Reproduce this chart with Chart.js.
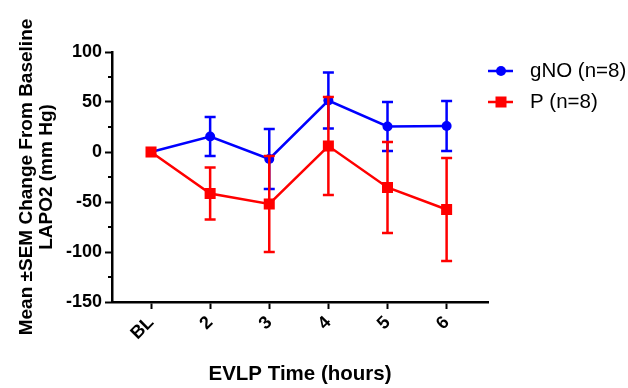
<!DOCTYPE html>
<html>
<head>
<meta charset="utf-8">
<script src="https://cdn.jsdelivr.net/npm/chart.js@4/dist/chart.umd.min.js"></script>
<style>
  html, body { margin: 0; padding: 0; background: #fff; }
  #wrap { width: 628px; height: 388px; }
</style>
</head>
<body>
<div id="wrap"><canvas id="evlp_chart" width="628" height="388"></canvas></div>
<script>
// data
var timeLabels = ['BL', '2', '3', '4', '5', '6'];

var gnoMean = [0, 15.5, -7, 51.5, 25.5, 26];
var gnoSem  = [0, 19.5, 30, 28, 24.5, 25];

var pMean = [0, -41.5, -52, 6, -35.5, -57.5];
var pSem  = [0, 26, 48, 49, 45.5, 51.5];

var yTicks = [-150, -100, -50, 0, 50, 100];

var blue = '#0000ff';
var red = '#ff0000';
var font = "'Liberation Sans', Arial, sans-serif";

function toPoints(vals) {
    return vals.map(function(v, i) { return { x: i, y: v }; });
}

// vertical error bars with caps, drawn through the chart scales
var errorBars = {
    id: 'errorBars',
    afterDatasetDraw: function(chart, args) {
        var ds = chart.data.datasets[args.index];
        if (!ds.errors) return;
        var ctx = chart.ctx;
        var xs = chart.scales.x, ys = chart.scales.y;
        ctx.save();
        ctx.strokeStyle = ds.borderColor;
        ctx.lineWidth = 2.5;
        ds.data.forEach(function(p, i) {
            var e = ds.errors[i];
            if (!e) return;
            var x = xs.getPixelForValue(p.x);
            var top = ys.getPixelForValue(p.y + e);
            var bot = ys.getPixelForValue(p.y - e);
            ctx.beginPath();
            ctx.moveTo(x, top); ctx.lineTo(x, bot);
            ctx.moveTo(x - 5.5, top); ctx.lineTo(x + 5.5, top);
            ctx.moveTo(x - 5.5, bot); ctx.lineTo(x + 5.5, bot);
            ctx.stroke();
        });
        ctx.restore();
    }
};

// minor ticks on the y axis + the legend at the right
var extras = {
    id: 'extras',
    afterDraw: function(chart) {
        var ctx = chart.ctx;
        var ys = chart.scales.y;
        var left = chart.chartArea.left;
        ctx.save();
        ctx.strokeStyle = '#000';
        ctx.lineWidth = 2;
        for (var v = -125; v < 100; v += 50) {
            var y = ys.getPixelForValue(v);
            ctx.beginPath();
            ctx.moveTo(left - 4, y); ctx.lineTo(left, y);
            ctx.stroke();
        }

        var items = [
            { text: 'gNO (n=8)', color: blue, shape: 'circle', y: 71 },
            { text: 'P (n=8)', color: red, shape: 'rect', y: 102 }
        ];
        ctx.font = '20.5px ' + font;
        ctx.textBaseline = 'middle';
        items.forEach(function(it) {
            ctx.strokeStyle = it.color;
            ctx.fillStyle = it.color;
            ctx.lineWidth = 2.5;
            ctx.beginPath();
            ctx.moveTo(488, it.y); ctx.lineTo(513, it.y);
            ctx.stroke();
            if (it.shape === 'circle') {
                ctx.beginPath();
                ctx.arc(501, it.y, 5, 0, Math.PI * 2);
                ctx.fill();
            } else {
                ctx.fillRect(495.5, it.y - 5.5, 11, 11);
            }
            ctx.fillStyle = '#000';
            ctx.fillText(it.text, 530, it.y);
        });
        ctx.restore();
    }
};

var config = {
    type: 'line',
    data: {
        datasets: [{
            label: 'gNO (n=8)',
            data: toPoints(gnoMean),
            errors: gnoSem,
            borderColor: blue,
            backgroundColor: blue,
            borderWidth: 2.5,
            pointStyle: 'circle',
            pointRadius: 5,
            pointBorderWidth: 0,
            lineTension: 0,
            fill: false,
            order: 2
        }, {
            label: 'P (n=8)',
            data: toPoints(pMean),
            errors: pSem,
            borderColor: red,
            backgroundColor: red,
            borderWidth: 2.5,
            pointStyle: 'rect',
            pointRadius: 7.8,
            pointBorderWidth: 0,
            lineTension: 0,
            fill: false,
            order: 1
        }]
    },
    options: {
        responsive: false,
        animation: false,
        layout: { padding: { top: 52, right: 140, bottom: 0, left: 0 } },
        plugins: {
            legend: { display: false },
            tooltip: { enabled: false }
        },
        scales: {
            x: {
                type: 'linear',
                min: -0.66,
                max: 5.7,
                afterBuildTicks: function(scale) {
                    scale.ticks = timeLabels.map(function(_, i) { return { value: i }; });
                },
                afterFit: function(scale) { scale.height = 86; },
                border: { color: '#000', width: 2.5 },
                grid: { drawOnChartArea: false, color: '#000', tickLength: 7, tickWidth: 2 },
                ticks: {
                    autoSkip: false,
                    minRotation: 45,
                    maxRotation: 45,
                    color: '#000',
                    font: { family: font, size: 18, weight: 'bold' },
                    callback: function(v) { return timeLabels[v]; }
                },
                title: {
                    display: true,
                    text: 'EVLP Time (hours)',
                    color: '#000',
                    font: { family: font, size: 20.5, weight: 'bold' },
                    padding: { top: 0, bottom: 1 }
                }
            },
            y: {
                min: -150,
                max: 100,
                afterBuildTicks: function(scale) {
                    scale.ticks = yTicks.map(function(v) { return { value: v }; });
                },
                afterFit: function(scale) { scale.width = 112; },
                border: { color: '#000', width: 2.5 },
                grid: { drawOnChartArea: false, color: '#000', tickLength: 7, tickWidth: 2 },
                ticks: {
                    color: '#000',
                    padding: 3,
                    font: { family: font, size: 18, weight: 'bold' }
                },
                title: {
                    display: true,
                    text: ['Mean \u00b1SEM Change From Baseline', 'LAPO2 (mm Hg)'],
                    color: '#000',
                    font: { family: font, size: 19, weight: 'bold', lineHeight: 1.05 },
                    padding: { top: 17, bottom: 0 }
                }
            }
        }
    },
    plugins: [errorBars, extras]
};

window.chart = new Chart(document.getElementById('evlp_chart').getContext('2d'), config);
</script>
</body>
</html>
